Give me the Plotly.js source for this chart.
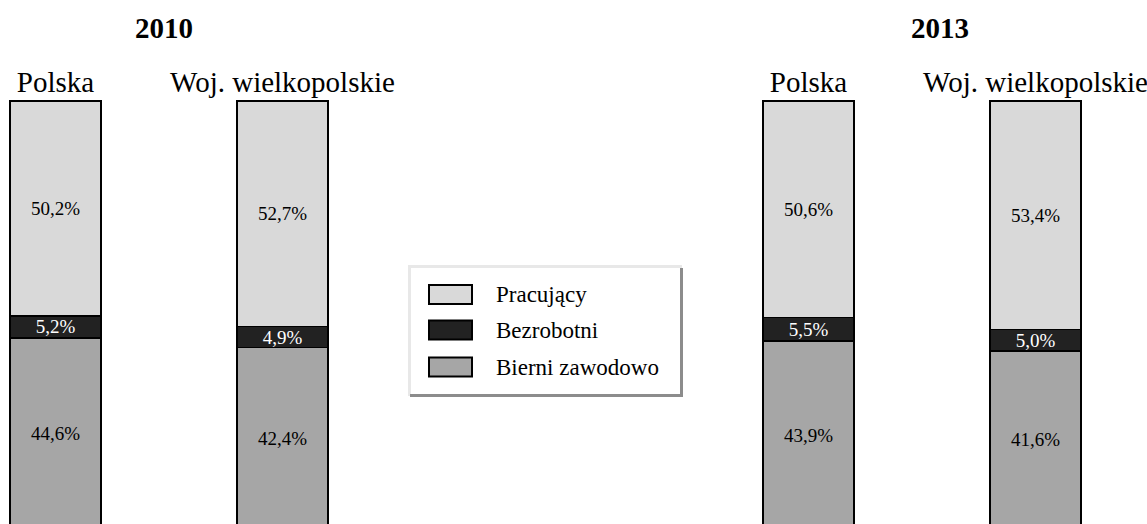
<!DOCTYPE html>
<html><head><meta charset="utf-8">
<script src="https://cdn.plot.ly/plotly-3.0.1.min.js"></script>
<style>html,body{margin:0;padding:0;background:#fff}#chart{width:1147px;height:524px}</style>
</head><body><div id="chart"></div>
<script>
// ---- data ----
const regions = ['Polska', 'Woj. wielkopolskie'];
const years = ['2010', '2013'];
const seriesNames = ['Pracujący', 'Bezrobotni', 'Bierni zawodowo'];
const pracujacy2010 = [50.2, 52.7];
const bezrobotni2010 = [5.2, 4.9];
const bierni2010 = [44.6, 42.4];
const pracujacy2013 = [50.6, 53.4];
const bezrobotni2013 = [5.5, 5.0];
const bierni2013 = [43.9, 41.6];

// ---- styles ----
const W = 1147, H = 524, MT = 99;
const FONT = 'Liberation Serif, Times New Roman, serif';
const colors = {'Pracujący': '#d9d9d9', 'Bezrobotni': '#222222', 'Bierni zawodowo': '#a6a6a6'};
const textColors = {'Pracujący': '#000000', 'Bezrobotni': '#ffffff', 'Bierni zawodowo': '#000000'};
const fmt = v => v.toFixed(1).replace('.', ',') + '%';

const dataByYear = {
  '2010': {'Pracujący': pracujacy2010, 'Bezrobotni': bezrobotni2010, 'Bierni zawodowo': bierni2010},
  '2013': {'Pracujący': pracujacy2013, 'Bezrobotni': bezrobotni2013, 'Bierni zawodowo': bierni2013}
};

const traces = [];
years.forEach((yr, i) => {
  const xa = i === 0 ? 'x' : 'x2';
  // stack from bottom: Bierni, Bezrobotni, Pracujący
  seriesNames.slice().reverse().forEach(name => {
    const vals = dataByYear[yr][name];
    traces.push({
      type: 'bar', x: regions, y: vals, xaxis: xa, yaxis: 'y', name: name,
      showlegend: false,
      marker: {color: colors[name], line: {color: '#000000', width: 1.8}},
      text: vals.map(fmt), textposition: 'inside', insidetextanchor: 'middle',
      constraintext: 'none', textangle: 0,
      textfont: {family: FONT, size: 19, color: textColors[name]},
      hoverinfo: 'skip'
    });
  });
});

// pixel -> paper helpers
const plotH = H - MT;
const px = p => p / W;
const py = p => (H - p) / plotH;

const shapes = [];
const annotations = [];
// year titles
[['2010', 163.5], ['2013', 940]].forEach(([t, cx], k) => {
  annotations.push({text: '<b>' + years[k] + '</b>', xref: 'paper', yref: 'paper', x: px(cx), y: py(28),
    xanchor: 'center', yanchor: 'middle', showarrow: false, font: {family: FONT, size: 29, color: '#000'}});
});

// custom legend box
shapes.push({type: 'rect', xref: 'paper', yref: 'paper', x0: px(410), x1: px(681), y0: py(267), y1: py(395),
  fillcolor: '#ffffff', line: {width: 0}, layer: 'above'});
shapes.push({type: 'line', xref: 'paper', yref: 'paper', x0: px(408), x1: px(682), y0: py(266.5), y1: py(266.5), line: {color: '#e8e8e8', width: 3}, layer: 'above'});
shapes.push({type: 'line', xref: 'paper', yref: 'paper', x0: px(409.5), x1: px(409.5), y0: py(265), y1: py(396), line: {color: '#e8e8e8', width: 3}, layer: 'above'});
shapes.push({type: 'line', xref: 'paper', yref: 'paper', x0: px(681.5), x1: px(681.5), y0: py(268), y1: py(397), line: {color: '#8c8c8c', width: 3}, layer: 'above'});
shapes.push({type: 'line', xref: 'paper', yref: 'paper', x0: px(410), x1: px(683), y0: py(395.5), y1: py(395.5), line: {color: '#8c8c8c', width: 3}, layer: 'above'});
const legendY = [294.5, 330, 367];
seriesNames.forEach((name, k) => {
  const cy = legendY[k];
  shapes.push({type: 'rect', xref: 'paper', yref: 'paper', x0: px(429), x1: px(472), y0: py(cy - 9.5), y1: py(cy + 9.5),
    fillcolor: colors[name], line: {color: '#000', width: 2}, layer: 'above'});
  annotations.push({text: name, xref: 'paper', yref: 'paper', x: px(494), y: py(cy), xanchor: 'left', yanchor: 'middle',
    showarrow: false, font: {family: FONT, size: 23, color: '#000'}});
});

const axisCommon = {type: 'category', side: 'top', showgrid: false, zeroline: false, showline: false, ticks: '',
  tickfont: {family: FONT, size: 29, color: '#000'}, fixedrange: true, anchor: 'y'};

const layout = {
  width: W, height: H,
  margin: {l: 0, r: 0, t: MT, b: 0, pad: 0},
  paper_bgcolor: '#ffffff', plot_bgcolor: '#ffffff',
  barmode: 'stack', bargap: 0.6,
  font: {family: FONT, color: '#000'},
  xaxis: Object.assign({}, axisCommon, {domain: [0, 370 / W], range: [-0.2445, 1.3855]}),
  xaxis2: Object.assign({}, axisCommon, {domain: [700 / W, 1], range: [-0.478, 1.491]}),
  yaxis: {range: [1.17, 100.47], visible: false, fixedrange: true},
  shapes: shapes, annotations: annotations, showlegend: false
};

Plotly.newPlot('chart', traces, layout, {displayModeBar: false, staticPlot: true});
</script></body></html>
